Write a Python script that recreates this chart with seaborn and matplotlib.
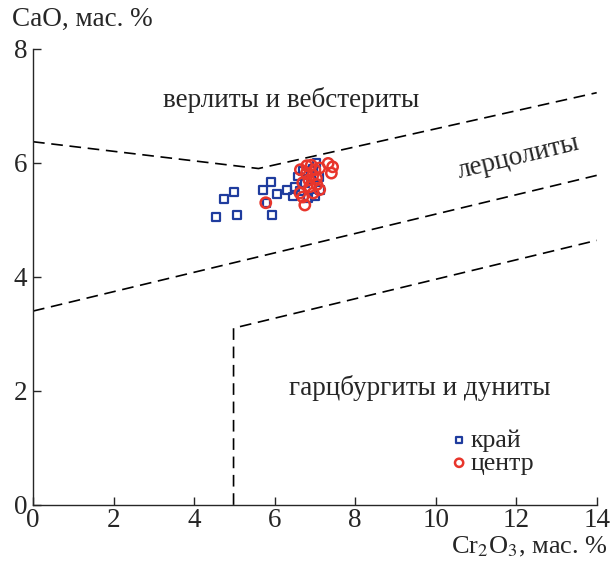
import matplotlib
matplotlib.use("Agg")
import matplotlib.pyplot as plt
import seaborn as sns
import pandas as pd

# edge (край) points: Cr2O3, CaO
edge_cr = [4.55, 5.07, 4.74, 4.99, 5.90, 5.72, 6.05, 5.80, 5.93, 6.31, 6.46, 6.50,
           6.58, 6.70, 6.83, 7.00, 7.12, 7.04, 6.90, 6.62, 6.95, 7.10, 6.75]
edge_ca = [5.05, 5.08, 5.37, 5.49, 5.66, 5.53, 5.45, 5.30, 5.08, 5.53, 5.41, 5.58,
           5.76, 5.85, 5.38, 5.41, 5.53, 5.99, 5.70, 5.50, 5.90, 5.75, 5.65]

# centre (центр) points
core_cr = [5.78, 6.64, 6.91, 7.33, 7.41, 7.12, 6.70, 6.87, 6.63, 6.75, 7.04, 6.96,
           7.12, 6.79, 7.00, 7.44, 6.85, 6.95, 7.05, 6.70, 6.80]
core_ca = [5.30, 5.88, 5.96, 5.99, 5.82, 5.91, 5.65, 5.58, 5.47, 5.26, 5.73, 5.47,
           5.53, 5.82, 5.88, 5.93, 5.70, 5.78, 5.62, 5.40, 5.95]

# field boundaries
bound_upper_x = [0, 5.6, 14]
bound_upper_y = [6.37, 5.9, 7.23]
bound_mid_x = [0, 14]
bound_mid_y = [3.4, 5.78]
bound_low_x = [4.98, 4.98, 14]
bound_low_y = [0, 3.1, 4.64]

df = pd.DataFrame({
    "Cr2O3": edge_cr + core_cr,
    "CaO": edge_ca + core_ca,
    "zone": ["край"] * len(edge_cr) + ["центр"] * len(core_cr),
})

sns.set_style("ticks")
plt.rcParams["font.family"] = ["Liberation Serif", "DejaVu Serif"]
plt.rcParams["mathtext.fontset"] = "stix"

fig = plt.figure(figsize=(6.12, 5.61), dpi=100)
ax = fig.add_axes([0.054, 0.1, 0.921, 0.813])

dash = (0, (7, 4))
ax.plot(bound_upper_x, bound_upper_y, color="black", lw=1.2, linestyle=dash)
ax.plot(bound_mid_x, bound_mid_y, color="black", lw=1.2, linestyle=dash)
ax.plot(bound_low_x, bound_low_y, color="black", lw=1.2, linestyle=dash)

palette = {"край": "#1f3c9e", "центр": "#e8352b"}
sub = df[df.zone == "край"]
ax.scatter(sub.Cr2O3, sub.CaO, s=32, marker="s", facecolors="none",
           edgecolors=palette["край"], linewidths=1.6, label="край", zorder=3)
sub = df[df.zone == "центр"]
ax.scatter(sub.Cr2O3, sub.CaO, s=55, marker="o", facecolors="none",
           edgecolors=palette["центр"], linewidths=1.8, label="центр", zorder=4)

ax.set_xlim(0, 14)
ax.set_ylim(0, 8)
ax.set_xticks([0, 2, 4, 6, 8, 10, 12, 14])
ax.set_yticks([0, 2, 4, 6, 8])
ax.tick_params(direction="in", length=6, width=1, labelsize=19.5, pad=4)
ax.tick_params(axis="x", pad=2)
sns.despine(ax=ax)
for sp in ax.spines.values():
    sp.set_linewidth(1)

ax.text(6.4, 7.1, "верлиты и вебстериты", fontsize=19.5, ha="center", va="center")
ax.text(12.05, 6.1, "лерцолиты", fontsize=19.5, ha="center", va="center", rotation=13.5)
ax.text(9.6, 2.05, "гарцбургиты и дуниты", fontsize=19.5, ha="center", va="center")

fig.text(0.02, 0.965, "CaO, мас. %", fontsize=19.5, ha="left", va="center")
fig.text(0.992, 0.004, r"Cr$_2$O$_3$, мас. %", fontsize=19, ha="right", va="bottom")

leg = ax.legend(loc="center left", bbox_to_anchor=(0.724, 0.117), frameon=False,
                fontsize=18.5, handletextpad=0.15, borderaxespad=0, labelspacing=0.0,
                handlelength=0.6, markerscale=0.8)

fig.savefig("out.png", dpi=100)
